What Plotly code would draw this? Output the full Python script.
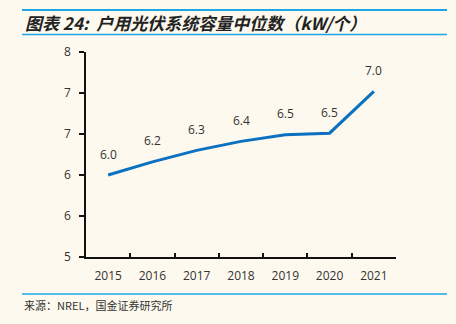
import plotly.graph_objects as go

years = ["2015", "2016", "2017", "2018", "2019", "2020", "2021"]
values = [6.0, 6.16, 6.30, 6.41, 6.49, 6.51, 7.02]
value_labels = ["6.0", "6.2", "6.3", "6.4", "6.5", "6.5", "7.0"]
y_tick_vals = [5.0, 5.5, 6.0, 6.5, 7.0, 7.5]
y_tick_text = ["5", "6", "6", "7", "7", "8"]
title_text = "图表 24:  户用光伏系统容量中位数（kW/个）"
source_text = "来源：NREL，国金证券研究所"

W, H = 456, 324
L, R, T, B = 86, 396, 52, 257
BG = "#FDF9EE"
LINE_BLUE = "#0A70C0"
RULE_BLUE = "#1AA7E6"


def px_x(px):
    return (px - L) / (R - L)


def px_y(py):
    return (B - py) / (B - T)


fig = go.Figure()
fig.add_trace(go.Scatter(
    x=years, y=values, mode="lines",
    line=dict(color=LINE_BLUE, width=3),
    hoverinfo="skip", showlegend=False,
))

for i, (v, lab) in enumerate(zip(values, value_labels)):
    fig.add_annotation(x=i, y=v, xref="x", yref="y", text=lab, showarrow=False, yshift=21,
                       font=dict(family="Open Sans, Noto Sans, sans-serif", size=12, color="#333333"))

fig.add_annotation(xref="paper", yref="paper", x=px_x(23), y=px_y(22), xanchor="left", yanchor="middle",
                   text="<b><i>" + title_text + "</i></b>", showarrow=False,
                   font=dict(family="Noto Sans CJK SC, sans-serif", size=17, color="#222222"))
fig.add_annotation(xref="paper", yref="paper", x=px_x(22), y=px_y(305), xanchor="left", yanchor="middle",
                   text=source_text, showarrow=False,
                   font=dict(family="Noto Sans CJK SC, sans-serif", size=11, color="#333333"))

for py, w in [(10, 2.2), (34.5, 1.6), (294, 1.6)]:
    fig.add_shape(type="line", xref="paper", yref="paper",
                  x0=px_x(22), x1=px_x(447), y0=px_y(py), y1=px_y(py),
                  line=dict(color=RULE_BLUE, width=w))

fig.update_layout(
    width=W, height=H,
    margin=dict(l=L, r=W - R, t=T, b=H - B),
    paper_bgcolor=BG, plot_bgcolor=BG,
    font=dict(family="Open Sans, Noto Sans, sans-serif", size=12, color="#333333"),
)
fig.update_xaxes(
    type="category", range=[-0.5, 6.5], showgrid=False, zeroline=False,
    showline=True, linecolor="#111111", linewidth=1.5,
    ticks="inside", tickson="boundaries", ticklen=4, tickwidth=1.5, tickcolor="#111111",
    tickfont=dict(size=12, color="#333333"), ticklabelstandoff=7,
)
fig.update_yaxes(
    range=[5, 7.5], showgrid=False, zeroline=False,
    showline=True, linecolor="#111111", linewidth=1.5,
    ticks="outside", ticklen=5, tickwidth=1.5, tickcolor="#111111",
    tickvals=y_tick_vals, ticktext=y_tick_text, ticklabelstandoff=6,
    tickfont=dict(size=12, color="#333333"),
)

fig.write_html("out.html")
